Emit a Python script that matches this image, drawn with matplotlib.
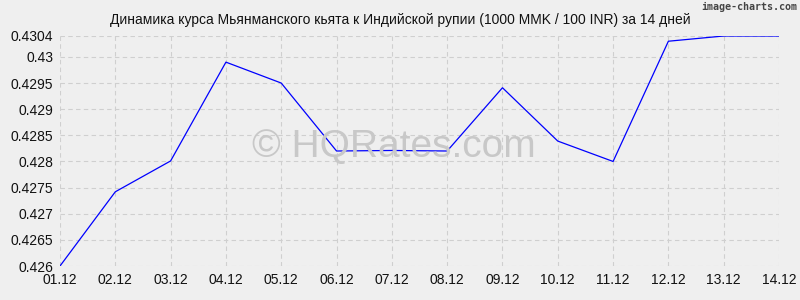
import matplotlib
matplotlib.use("Agg")
import matplotlib.pyplot as plt

dates = ["01.12", "02.12", "03.12", "04.12", "05.12", "06.12", "07.12",
         "08.12", "09.12", "10.12", "11.12", "12.12", "13.12", "14.12"]
rates = [0.4260, 0.42742, 0.42801, 0.42990, 0.42950, 0.42820, 0.42821,
         0.42820, 0.42941, 0.42839, 0.42800, 0.43030, 0.43040, 0.43040]
yticks = [0.426, 0.4265, 0.427, 0.4275, 0.428, 0.4285, 0.429, 0.4295, 0.43, 0.4304]
ylabels = ["0.426", "0.4265", "0.427", "0.4275", "0.428", "0.4285", "0.429", "0.4295", "0.43", "0.4304"]
title = "Динамика курса Мьянманского кьята к Индийской рупии (1000 MMK / 100 INR) за 14 дней"

plt.rcParams['font.family'] = ['Liberation Sans', 'DejaVu Sans']
bg = "#efefef"
fig = plt.figure(figsize=(8, 3), dpi=100, facecolor=bg)
ax = fig.add_axes([0.075, 0.1133, 0.89875, 0.7667], facecolor=bg)
x = list(range(len(dates)))
ax.plot(x, rates, color="#0000ff", lw=0.9, zorder=3)
ax.set_xlim(0, len(dates) - 1)
ax.set_ylim(0.426, 0.4304)
ax.set_xticks(x)
ax.set_xticklabels(dates)
ax.set_yticks(yticks)
ax.set_yticklabels(ylabels)
ax.tick_params(length=0, labelsize=10, colors="#111111", pad=5)
ax.grid(True, color="#cfcfcf", linestyle=(0, (4, 3)), lw=0.8)
for s in ax.spines.values():
    s.set_visible(False)
fig.text(0.5, 0.933, title, ha="center", va="center", fontsize=10, color="#111111")
fig.text(0.997, 0.995, "image-charts.com", ha="right", va="top", fontsize=7.2,
         family="DejaVu Sans Mono", weight="bold", color="#444444")
fig.text(394 / 800, 1 - 147 / 300, "© HQRates.com", ha="center", va="center",
         fontsize=28, color="#c8c8c8", zorder=1)
fig.savefig("out.png", dpi=100, facecolor=bg)
